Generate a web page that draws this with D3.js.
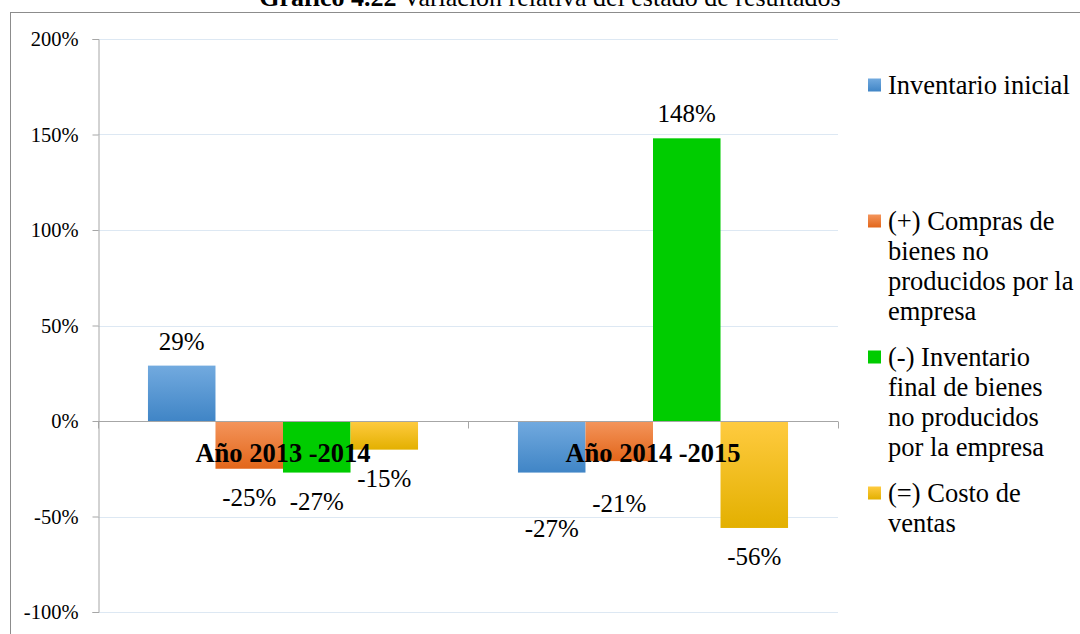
<!DOCTYPE html>
<html><head><meta charset="utf-8">
<script src="https://cdn.jsdelivr.net/npm/d3@7"></script>
<style>body{margin:0;background:#fff}svg{display:block}svg text{font-family:"Liberation Serif","Times New Roman",serif}</style>
</head><body>
<svg id="c" width="1080" height="634"></svg>
<script>
const categories = ["Año 2013 -2014", "Año 2014 -2015"];
const seriesNames = ["Inventario inicial", "(+) Compras de bienes no producidos por la empresa", "(-) Inventario final  de bienes no producidos por la empresa", "(=) Costo de ventas"];
const inventarioInicial = [29, -27];
const compras = [-25, -21];
const inventarioFinal = [-27, 148];
const costoVentas = [-15, -56];
const yTicks = [-100, -50, 0, 50, 100, 150, 200];
const legendLines = [["Inventario inicial"], ["(+) Compras de", "bienes no", "producidos por la", "empresa"], ["(-) Inventario", "final  de bienes", "no producidos", "por la empresa"], ["(=) Costo de", "ventas"]];

const values = [inventarioInicial, compras, inventarioFinal, costoVentas];
// extra manual label shifts (px) per [series][category], as placed in the original
const labelNudge = [[0, 27], [0, 14], [0, 0], [0, 0]];

const svg = d3.select("#c");
const L = 98, R = 838, T = 39, B = 612;

const defs = svg.append("defs");
const grads = [["#72aadf", "#4085c6"], ["#f4955c", "#e2661a"], ["#00cc00", "#00cc00"], ["#ffcb40", "#e3b000"]];
grads.forEach((g, i) => {
  const lg = defs.append("linearGradient").attr("id", "g" + i).attr("x1", 0).attr("y1", 0).attr("x2", 0).attr("y2", 1);
  lg.append("stop").attr("offset", "0%").attr("stop-color", g[0]);
  lg.append("stop").attr("offset", "100%").attr("stop-color", g[1]);
});

// outer frame
svg.append("rect").attr("x", 10.5).attr("y", 12.5).attr("width", 1200).attr("height", 800)
  .attr("fill", "none").attr("stroke", "#8c8c8c");

// title (partly cut at the top, as in the original)
const title = svg.append("text").attr("x", 550).attr("y", 6).attr("text-anchor", "middle")
  .attr("font-size", 26).attr("fill", "#000");
title.append("tspan").attr("font-weight", "bold").text("Gráfico 4.22");
title.append("tspan").text(" Variación relativa del estado de resultados");

const y = d3.scaleLinear().domain([-100, 200]).range([B, T]);
const x0 = d3.scaleBand().domain(categories).range([L, R]);
const x1 = d3.scaleBand().domain(d3.range(4)).range([0, x0.bandwidth()]).paddingOuter(0.74).paddingInner(0);

// gridlines
svg.append("g").selectAll("line").data(yTicks.filter(d => d !== 0)).join("line")
  .attr("x1", L).attr("x2", R).attr("y1", d => Math.round(y(d)) + 0.5).attr("y2", d => Math.round(y(d)) + 0.5)
  .attr("stroke", "#dde8f3").attr("stroke-width", 1);

// y axis
const yAxis = d3.axisLeft(y).tickValues(yTicks).tickFormat(d => d + "%").tickSize(6).tickPadding(14);
const ga = svg.append("g").attr("transform", `translate(${L + 0.5},0)`).call(yAxis);
ga.attr("font-family", null);
ga.select(".domain").attr("stroke", "#a6a6a6");
ga.selectAll(".tick line").attr("stroke", "#a6a6a6");
ga.selectAll(".tick text").attr("font-size", 20.5).attr("fill", "#000").attr("dy", "0.34em");

// bars
const groups = svg.append("g").selectAll("g").data(categories).join("g")
  .attr("transform", d => `translate(${x0(d)},0)`);
groups.selectAll("rect").data((c, ci) => values.map((s, si) => ({ si, ci, v: s[ci] }))).join("rect")
  .attr("x", d => x1(d.si)).attr("width", x1.bandwidth())
  .attr("y", d => y(Math.max(0, d.v))).attr("height", d => Math.abs(y(d.v) - y(0)))
  .attr("fill", d => `url(#g${d.si})`);

// zero line and category axis
const xAxis = d3.axisBottom(x0).tickSize(0).tickFormat("");
const gx = svg.append("g").attr("transform", `translate(0,${Math.round(y(0)) + 0.5})`).call(xAxis);
gx.select(".domain").attr("stroke", "#a6a6a6").attr("d", `M${L},0H${R}`);
gx.selectAll(".tick").remove();
const bounds = [L, ...categories.map(c => x0(c) + x0.bandwidth())];
gx.selectAll(".bt").data(bounds).join("line").attr("class", "bt")
  .attr("x1", d => Math.round(d) + 0.5).attr("x2", d => Math.round(d) + 0.5).attr("y1", 0).attr("y2", 7)
  .attr("stroke", "#a6a6a6");

// category labels
svg.append("g").selectAll("text").data(categories).join("text")
  .attr("x", d => x0(d) + x0.bandwidth() / 2).attr("y", y(0) + 41)
  .attr("text-anchor", "middle").attr("font-size", 26.5).attr("font-weight", "bold").attr("fill", "#000")
  .text(d => d);

// data labels
groups.selectAll("text.dl").data((c, ci) => values.map((s, si) => ({ si, ci, v: s[ci] }))).join("text")
  .attr("class", "dl")
  .attr("x", d => x1(d.si) + x1.bandwidth() / 2)
  .attr("y", d => (d.v >= 0 ? y(d.v) - 16 : y(d.v) + 37) + labelNudge[d.si][d.ci])
  .attr("text-anchor", "middle").attr("font-size", 25).attr("fill", "#000")
  .text(d => d.v + "%");

// legend
const legendY = [85, 221, 357, 493];
const lg = svg.append("g").selectAll("g").data(legendLines).join("g")
  .attr("transform", (d, i) => `translate(868,${legendY[i]})`);
lg.append("rect").attr("x", 0).attr("y", -6.5).attr("width", 13).attr("height", 13).attr("fill", (d, i) => `url(#g${i})`);
lg.append("text").attr("font-size", 26.5).attr("fill", "#000")
  .selectAll("tspan").data(d => d).join("tspan")
  .attr("x", 20).attr("y", (d, j) => j * 30 + 9).text(d => d);
</script>
</body></html>
